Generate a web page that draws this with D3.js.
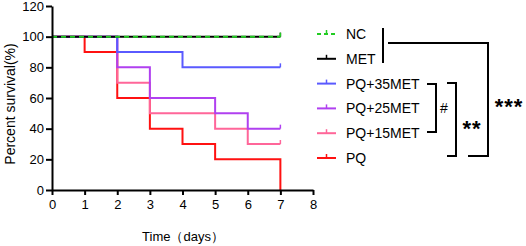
<!DOCTYPE html>
<html>
<head>
<meta charset="utf-8">
<script src="https://cdn.jsdelivr.net/npm/d3@7"></script>
<style>
body { margin: 0; background: #fff; }
text { font-family: "Liberation Sans", Arial, sans-serif; }
</style>
</head>
<body>
<script>
// survival data (step changes), time in days
var groups = ["NC", "MET", "PQ+35MET", "PQ+25MET", "PQ+15MET", "PQ"];
var colors = ["#22cc22", "#000000", "#5a5aff", "#b040f0", "#ff6699", "#ff1111"];
var stepTimes = [
  [0, 7],
  [0, 7],
  [0, 2, 4, 7],
  [0, 2, 3, 5, 6, 7],
  [0, 2, 3, 5, 6, 7],
  [0, 1, 2, 3, 4, 5, 7, 7]
];
var stepValues = [
  [100, 100],
  [100, 100],
  [100, 90, 80, 80],
  [100, 80, 60, 50, 40, 40],
  [100, 70, 50, 40, 30, 30],
  [100, 90, 60, 40, 30, 20, 20, 0]
];
var xTicks = [0, 1, 2, 3, 4, 5, 6, 7, 8];
var yTicks = [0, 20, 40, 60, 80, 100, 120];

var margin = {top: 6, left: 52},
    width = 261,
    height = 184;

var svg = d3.select("body").append("svg")
    .attr("width", 526)
    .attr("height", 246);

var g = svg.append("g")
    .attr("transform", "translate(" + margin.left + "," + margin.top + ")");

var x = d3.scaleLinear().domain([0, 8]).range([0, width]);
var y = d3.scaleLinear().domain([0, 120]).range([height, 0]);

var line = d3.line()
    .x(function (d) { return x(d[0]); })
    .y(function (d) { return y(d[1]); })
    .curve(d3.curveStepAfter);

// draw lower groups first so NC / MET sit on top
var order = [5, 4, 3, 2, 1, 0];
order.forEach(function (i) {
  var pts = stepTimes[i].map(function (t, k) { return [t, stepValues[i][k]]; });
  g.append("path")
      .attr("d", line(pts))
      .attr("fill", "none")
      .attr("stroke", colors[i])
      .attr("stroke-width", 2)
      .attr("stroke-dasharray", i === 0 ? "5,4" : null);
  // censor tick at the end
  var last = pts[pts.length - 1];
  if (last[1] > 0) {
    g.append("line")
        .attr("x1", x(last[0])).attr("x2", x(last[0]))
        .attr("y1", y(last[1])).attr("y2", y(last[1]) - 4)
        .attr("stroke", colors[i])
        .attr("stroke-width", 1.5);
  }
});

// axes
var xAxis = g.append("g")
    .attr("transform", "translate(0," + height + ")")
    .call(d3.axisBottom(x).tickValues(xTicks).tickSize(5).tickSizeOuter(0).tickPadding(5));
var yAxis = g.append("g")
    .call(d3.axisLeft(y).tickValues(yTicks).tickSize(6).tickSizeOuter(0).tickPadding(2));
[xAxis, yAxis].forEach(function (a) {
  a.selectAll("path, line").attr("stroke", "#000").attr("stroke-width", 2);
  a.selectAll("text").attr("font-size", 13).attr("fill", "#000")
      .style("font-family", "'Liberation Sans', Arial, sans-serif");
});

svg.append("text")
    .attr("transform", "translate(10," + (margin.top + height / 2 + 6) + ") rotate(-90)")
    .attr("text-anchor", "middle")
    .attr("dominant-baseline", "central")
    .attr("font-size", 14)
    .text("Percent survival(%)");

svg.append("text")
    .attr("x", 183)
    .attr("y", 241)
    .attr("text-anchor", "middle")
    .attr("font-size", 13)
    .text("Time（days）");

// legend
var lg = svg.append("g");
groups.forEach(function (name, i) {
  var yy = 34 + i * 24.8;
  lg.append("line")
      .attr("x1", 317).attr("x2", 336)
      .attr("y1", yy).attr("y2", yy)
      .attr("stroke", colors[i])
      .attr("stroke-width", 2)
      .attr("stroke-dasharray", i === 0 ? "4,3" : null);
  lg.append("line")
      .attr("x1", 326.5).attr("x2", 326.5)
      .attr("y1", yy).attr("y2", yy - 4)
      .attr("stroke", colors[i])
      .attr("stroke-width", 1.5);
  lg.append("text")
      .attr("x", 346)
      .attr("y", yy)
      .attr("dominant-baseline", "central")
      .attr("font-size", 14)
      .text(name);
});

// significance brackets
var br = svg.append("g").attr("fill", "none").attr("stroke", "#000").attr("stroke-width", 2);
br.append("path").attr("d", "M383,28V63");
br.append("path").attr("d", "M388,43H488V156H468");
br.append("path").attr("d", "M427,84H436V132H427");
br.append("path").attr("d", "M447,83H456V156H447");

svg.append("text").attr("x", 444).attr("y", 108)
    .attr("text-anchor", "middle").attr("dominant-baseline", "central")
    .attr("font-size", 14).text("#");
svg.append("text").attr("x", 472).attr("y", 128)
    .attr("text-anchor", "middle").attr("dominant-baseline", "central")
    .attr("font-size", 22).attr("font-weight", "bold").attr("letter-spacing", 1).text("**");
svg.append("text").attr("x", 509).attr("y", 106)
    .attr("text-anchor", "middle").attr("dominant-baseline", "central")
    .attr("font-size", 22).attr("font-weight", "bold").attr("letter-spacing", 1).text("***");
</script>
</body>
</html>
